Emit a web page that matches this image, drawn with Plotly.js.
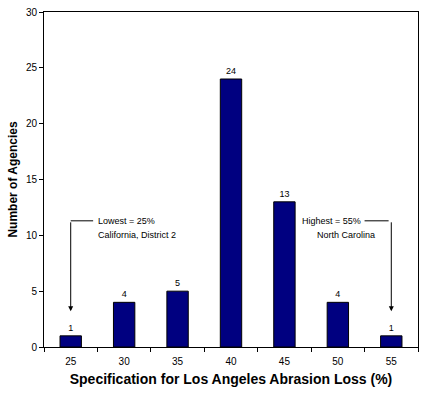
<!DOCTYPE html>
<html><head><meta charset="utf-8">
<script src="https://cdn.plot.ly/plotly-3.0.1.min.js"></script>
<style>html,body{margin:0;padding:0;background:#fff}#c{width:425px;height:393px}</style>
</head><body><div id="c"></div>
<script>
const categories = ["25","30","35","40","45","50","55"];
const agencies = [1,4,5,24,13,4,1];
const yTicks = [0,5,10,15,20,25,30];
const lowNote = ["Lowest = 25%","California, District 2"];
const highNote = ["Highest = 55%","North Carolina"];

const F = "Liberation Sans, Arial, sans-serif";
const trace = {
  type: "bar", x: categories, y: agencies,
  marker: {color: "#000080", line: {color: "#000", width: 1}},
  text: agencies.map(String), textposition: "outside", cliponaxis: false,
  textfont: {family: F, size: 9, color: "#000"}, width: 0.4, hoverinfo: "none"
};
const layout = {
  width: 425, height: 393,
  margin: {l: 44, r: 7, t: 12, b: 46},
  paper_bgcolor: "#fff", plot_bgcolor: "#fff",
  showlegend: false,
  font: {family: F, color: "#000"},
  xaxis: {
    type: "category", tickson: "boundaries", ticks: "outside", ticklen: 4,
    tickcolor: "#000", showline: true, linecolor: "#000", linewidth: 1, mirror: true,
    showgrid: false, tickfont: {family: F, size: 10}, fixedrange: true, ticklabelstandoff: 5,
    title: {text: "Specification for Los Angeles Abrasion Loss (%)", font: {family: F, size: 14, weight: "bold"}, standoff: 8}
  },
  yaxis: {
    range: [0, 30], tickvals: yTicks, ticks: "outside", ticklen: 4, tickcolor: "#000",
    showline: true, linecolor: "#000", linewidth: 1, mirror: true, showgrid: false,
    zeroline: false, tickfont: {family: F, size: 10}, fixedrange: true,
    title: {text: "Number of Agencies", font: {family: F, size: 12, weight: "bold"}, standoff: 5}
  },
  shapes: [
    {type: "line", xref: "x", yref: "y", x0: 0, x1: 0.42, y0: 11.3, y1: 11.3, line: {color: "#000", width: 1}},
    {type: "line", xref: "x", yref: "y", x0: 5.5, x1: 5.95, y0: 11.3, y1: 11.3, line: {color: "#000", width: 1}}
  ],
  annotations: [
    {x: 0, y: 3.2, ax: 0, ay: 11.3, xref: "x", yref: "y", axref: "x", ayref: "y",
     showarrow: true, arrowhead: 2, arrowsize: 1, arrowwidth: 1, arrowcolor: "#000", text: ""},
    {x: 6, y: 3.2, ax: 6, ay: 11.3, xref: "x", yref: "y", axref: "x", ayref: "y",
     showarrow: true, arrowhead: 2, arrowsize: 1, arrowwidth: 1, arrowcolor: "#000", text: ""},
    {x: 0.47, y: 11.3, xref: "x", yref: "y", xanchor: "left", yanchor: "middle", showarrow: false,
     text: lowNote[0], font: {family: F, size: 9}},
    {x: 0.47, y: 10.05, xref: "x", yref: "y", xanchor: "left", yanchor: "middle", showarrow: false,
     text: lowNote[1], font: {family: F, size: 9}},
    {x: 5.47, y: 11.3, xref: "x", yref: "y", xanchor: "right", yanchor: "middle", showarrow: false,
     text: highNote[0], font: {family: F, size: 9}},
    {x: 5.15, y: 10.05, xref: "x", yref: "y", xanchor: "center", yanchor: "middle", showarrow: false,
     text: highNote[1], font: {family: F, size: 9}}
  ]
};
Plotly.newPlot("c", [trace], layout, {staticPlot: true, displayModeBar: false});
</script></body></html>
